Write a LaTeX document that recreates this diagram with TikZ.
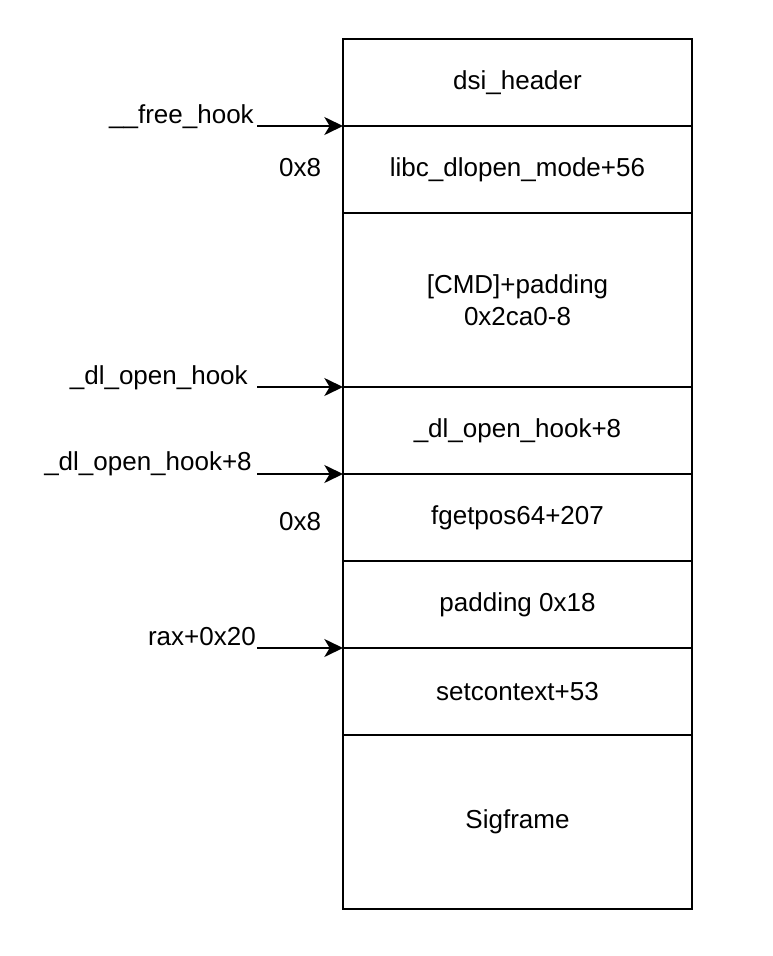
\documentclass[tikz,border=0pt]{standalone}
\usepackage{fontspec}
\setmainfont{Liberation Sans}
\usetikzlibrary{arrows.meta}
\begin{document}
\begin{tikzpicture}[
    x=0.75pt, y=-0.75pt,
    every node/.style={font=\fontsize{19.5}{24}\selectfont},
    slot_style/.style={rectangle, draw, line width=1.1pt, minimum width=261.75pt, inner sep=0pt, outer sep=0pt, align=center},
    short_slot/.style={slot_style, minimum height=65.25pt},
    tall_slot/.style={slot_style, minimum height=130.5pt},
    ptr_style/.style={line width=1.3pt, -{Stealth[length=14pt, width=13.5pt, inset=4pt]}},
    ptr_label/.style={anchor=base east, inner sep=0pt}
]
\useasboundingbox (0,0) rectangle (773,956);
% memory layout
\node[short_slot] (dsi_header) at (517.5, 82.5) {dsi\_header};
\node[short_slot] (dlopen_mode) at (517.5, 169.5) {libc\_dlopen\_mode+56};
\node[tall_slot] (cmd) at (517.5, 300) {[CMD]+padding\\0x2ca0-8};
\node[short_slot] (hook_plus8) at (517.5, 430.5) {\_dl\_open\_hook+8};
\node[short_slot] (fgetpos) at (517.5, 517.5) {fgetpos64+207};
\node[short_slot] (padding) at (517.5, 604.5) {padding 0x18};
\node[short_slot] (setcontext) at (517.5, 691.5) {setcontext+53};
\node[tall_slot] (sigframe) at (517.5, 822) {Sigframe};
% pointers
\coordinate (free_start) at (257, 126);
\coordinate (dlhook_start) at (257, 387);
\coordinate (dlhook8_start) at (257, 474);
\coordinate (rax_start) at (257, 648);
\node[ptr_label] (free_hook) at (254, 123) {\_\_free\_hook};
\node[ptr_label] (dl_open_hook) at (248, 384) {\_dl\_open\_hook};
\node[ptr_label] (dl_open_hook8) at (252, 470) {\_dl\_open\_hook+8};
\node[ptr_label] (rax) at (256, 645) {rax+0x20};
\draw[ptr_style] (free_start) -- (dlopen_mode.north west);
\draw[ptr_style] (dlhook_start) -- (hook_plus8.north west);
\draw[ptr_style] (dlhook8_start) -- (fgetpos.north west);
\draw[ptr_style] (rax_start) -- (setcontext.north west);
% offsets
\node (off_a) at (300, 168) {0x8};
\node (off_b) at (300, 522) {0x8};
\end{tikzpicture}
\end{document}
